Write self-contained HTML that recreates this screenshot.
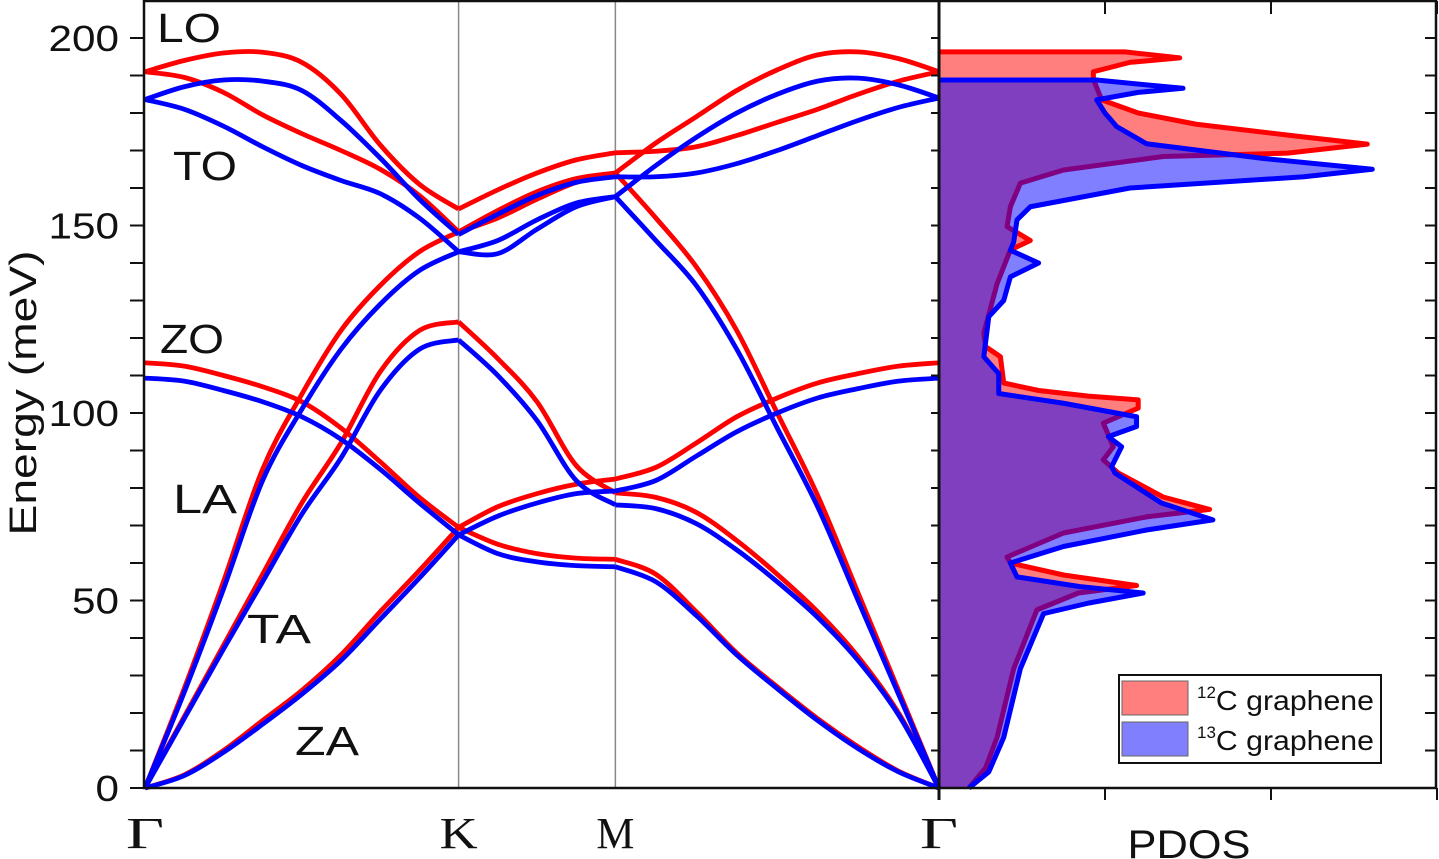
<!DOCTYPE html>
<html><head><meta charset="utf-8"><style>
body{margin:0;background:#fff}
svg{display:block}
text{font-family:"Liberation Sans",sans-serif;fill:#111}
</style></head><body>
<svg id="c" width="1439" height="859" viewBox="0 0 1439 859"></svg>
<script>
// ---- data ----
const qPath=[0,.125,.25,.375,.5,.625,.75,.875,1,1.125,1.25,1.375,1.5,1.629,1.758,1.887,2.016,2.145,2.274,2.403,2.532];
const red_ZA=[0,3.5,10,18,26,35.5,47,58,69.5,65,62.5,61.3,61,57,47,36,27,18.5,11,4.5,0];
const red_ZO=[113.4,112.5,110,107,103,96,87,77.5,69.5,75,78.5,81,82.4,85.5,92,99,104,108,110.5,112.5,113.4];
const red_TA=[0,19,38,57,76,92,111,122,124.3,114.5,103,86,78.7,77.5,73.5,66,57,47,35,20,0];
const red_LA=[0,26.5,55,85,105,122,134,143,148.3,152,157,161.5,164,152,139,122,100,78,52,26,0];
const red_LO=[191,189.5,185.5,179.5,174.5,170,165,158,148.3,154,159,162.5,164,172,179,186,191.5,195.5,196.3,194.5,191];
const red_TO=[191,194,196,196.2,193.5,185,171.5,161,154.4,159.5,164,167.5,169.4,169.8,171,174,177.5,181,185,188.5,191];
const blue_ZA=[0,3.3,9.5,17,25,34,45,56,67.5,62.5,60.3,59.3,59,55,46,35.5,26.5,18,10.5,4.3,0];
const blue_ZO=[109.3,108.5,106,103,99,93,85,76,67.5,72.5,76,78.5,79.2,82,88.5,95,100,104,106.5,108.5,109.3];
const blue_TA=[0,18.5,37,55,73,88,106,117,119.5,110,98,82,75.5,74.5,70.5,63.5,55,45.5,34,19.5,0];
const blue_LA=[0,25.5,53,82,101,117,129,138,143,142.5,149,155,157.7,146,134,117,96,75,50,25,0];
const blue_LO=[183.6,181,176.5,171,166,162,158.5,152,143,146,151.5,156,157.7,166,173.5,180,185,188.5,189.3,187.5,184];
const blue_TO=[183.6,187,188.8,188.5,186,178,168,157,147.6,153,158,161.5,163,163,164,166.5,170,174,178,181.5,184];
const pdosRedE=[196.3,194.7,193.5,191,189,183.5,180,177,173.8,171.7,169.3,168.4,164.8,161.3,155,149.7,146,143.5,134.5,121.3,117.7,115,108,106,104.5,103.5,101.3,97.3,91,87.5,84,77.6,74.3,72.3,68,61.6,60,56.8,54,52,47.5,31.8,13.5,5.3,0];
const pdosRedD=[1.12,1.45,1.15,0.93,0.93,0.98,1.2,1.55,2.16,2.58,2.1,1.35,0.75,0.49,0.43,0.41,0.55,0.43,0.35,0.27,0.28,0.37,0.39,0.6,0.9,1.2,1.2,0.99,1.05,0.99,1.08,1.35,1.63,1.25,0.75,0.41,0.43,0.75,1.19,0.84,0.59,0.45,0.35,0.28,0.18];
const pdosBlueE=[188.8,187.5,186.6,185.5,183.5,180,176.4,171.8,167.9,165,163,160,155,151.5,145.6,143.4,140,136.3,130,125.7,115,110.5,105.2,102.6,99,96.4,93.7,91,85.7,84,76,71.5,68.8,64.4,60,56.3,53.7,52,49.3,46.5,31.8,13.5,4.3,0];
const pdosBlueD=[0.95,1.25,1.47,1.2,0.95,1.0,1.07,1.25,1.95,2.61,2.2,1.15,0.55,0.47,0.45,0.43,0.6,0.43,0.39,0.3,0.27,0.36,0.36,0.75,1.19,1.19,1.02,1.1,1.04,1.06,1.34,1.65,1.25,0.75,0.43,0.47,0.85,1.23,0.9,0.63,0.49,0.39,0.3,0.18];
const yTicks=[0,50,100,150,200];
const kLabels=[["Γ",0],["K",1],["M",1.5],["Γ",2.532]];
const pdosTicks=[0,1,2,3];

// ---- axes ----
const NS="http://www.w3.org/2000/svg",svg=document.getElementById('c');
const X0=145,X1=939,Y0=788,PX1=1437;
const xq=q=>X0+q*(X1-X0)/2.532;
const yE=e=>Y0-e*3.75;
const xd=d=>X1+d*166;
function mk(t,a,p){const e=document.createElementNS(NS,t);for(const k in a)e.setAttribute(k,a[k]);(p||svg).appendChild(e);return e;}
function cr(pts){let d=`M${pts[0][0]},${pts[0][1]}`;for(let i=0;i<pts.length-1;i++){const p0=pts[Math.max(0,i-1)],p1=pts[i],p2=pts[i+1],p3=pts[Math.min(pts.length-1,i+2)];
d+=`C${p1[0]+(p2[0]-p0[0])/6},${p1[1]+(p2[1]-p0[1])/6} ${p2[0]-(p3[0]-p1[0])/6},${p2[1]-(p3[1]-p1[1])/6} ${p2[0]},${p2[1]}`;}return d;}

// PDOS
function pdos(E,D,fill,stroke,name){
  const pts=[[X1,yE(E[0])]];E.forEach((e,i)=>pts.push([xd(D[i]),yE(e)]));pts.push([X1,yE(0)]);
  const f=mk('polygon',{points:pts.map(p=>p.join(',')).join(' '),fill:fill,stroke:'none'});
  
  
  const s=mk('polyline',{points:pts.slice(0,-1).map(p=>p.join(',')).join(' '),fill:'none',stroke:stroke,'stroke-width':5,'stroke-linejoin':'round'});
  
  
}
pdos(pdosRedE,pdosRedD,'#ff7f7f','#ff0000','pdos-12c');
pdos(pdosBlueE,pdosBlueD,'rgba(0,0,255,0.5)','#0000ff','pdos-13c');

// K, M lines
[1,1.5].forEach(q=>{const l=mk('line',{x1:xq(q),x2:xq(q),y1:0,y2:Y0,stroke:'#888','stroke-width':1.5});

});

// bands
const bands=[["za",red_ZA,blue_ZA],["zo",red_ZO,blue_ZO],["ta",red_TA,blue_TA],["la",red_LA,blue_LA],["lo",red_LO,blue_LO],["to",red_TO,blue_TO]];
const segs=[[0,8],[8,12],[12,20]];
[["red",1,"#ff0000"],["blue",2,"#0000ff"]].forEach(([nm,idx,col])=>{
  bands.forEach(b=>{const v=b[idx];let d='';
    segs.forEach(([a,z])=>{const pts=[];for(let i=a;i<=z;i++)pts.push([xq(qPath[i]),yE(v[i])]);d+=cr(pts);});
    const p=mk('path',{d:d,fill:'none',stroke:col,'stroke-width':4.8});
    
    
  });
});

// frame
const fr=mk('rect',{x:X0-1,y:1,width:PX1-X0,height:Y0-1,fill:'none',stroke:'#111','stroke-width':2.5});


const sep=mk('line',{x1:X1,x2:X1,y1:0,y2:Y0+12,stroke:'#111','stroke-width':3});



function txt(s,a,len,p){const t=mk('text',a,p);t.textContent=s;if(len){t.setAttribute('textLength',len);t.setAttribute('lengthAdjust','spacingAndGlyphs');}return t;}

// y ticks
for(let e=0;e<=200;e+=10){const y=yE(e);
  const t=mk('line',{x1:X0-15,x2:X0,y1:y,y2:y,stroke:'#111','stroke-width':2});
  
  
  const t2=mk('line',{x1:X1-8,x2:X1,y1:y,y2:y,stroke:'#111','stroke-width':2});
  
  
  const t3=mk('line',{x1:PX1-12,x2:PX1,y1:y,y2:y,stroke:'#111','stroke-width':2});
  
  
}
yTicks.forEach(e=>{const s=String(e);const t=txt(s,{x:119,y:yE(e)+13,'text-anchor':'end','font-size':36},s.length*23.5);

});
pdosTicks.forEach(d=>{
  const a=mk('line',{x1:xd(d),x2:xd(d),y1:Y0,y2:Y0+12,stroke:'#111','stroke-width':2});
  
  
  const b=mk('line',{x1:xd(d),x2:xd(d),y1:1,y2:14,stroke:'#111','stroke-width':2});
  
  
});
kLabels.forEach(([s,q])=>{const t=txt(s,{x:xq(q),y:848,'text-anchor':'middle','font-size':44},38);
t.style.fontFamily='"Liberation Serif",serif';

});
const px=txt('PDOS',{x:1189,y:858,'text-anchor':'middle','font-size':40},123);


const yt=txt('Energy (meV)',{x:0,y:0,'text-anchor':'middle','font-size':38,transform:'translate(36,393) rotate(-90)'},285);


[["LO",157,42],["TO",173,180],["ZO",160,353],["LA",173,513],["TA",247,643],["ZA",295,755]].forEach(([s,x,y])=>{
  const t=txt(s,{x:x,y:y,'font-size':41},64);
  
  });

// legend
const lg=mk('g',{});


mk('rect',{x:1119,y:675,width:262,height:88,fill:'#fff',stroke:'#111','stroke-width':2},lg);
const s1=mk('rect',{x:1122,y:681,width:66,height:34,fill:'#ff7f7f',stroke:'#666','stroke-width':1},lg);


const s2=mk('rect',{x:1122,y:722,width:66,height:34,fill:'#8080ff',stroke:'#666','stroke-width':1},lg);


[["12",710],["13",750]].forEach(([n,y])=>{const t=mk('text',{x:1197,y:y,'font-size':28},lg);
t.innerHTML=`<tspan font-size="17" dy="-12">${n}</tspan><tspan dy="12" textLength="158" lengthAdjust="spacingAndGlyphs">C graphene</tspan>`;

});
</script>
</body></html>
